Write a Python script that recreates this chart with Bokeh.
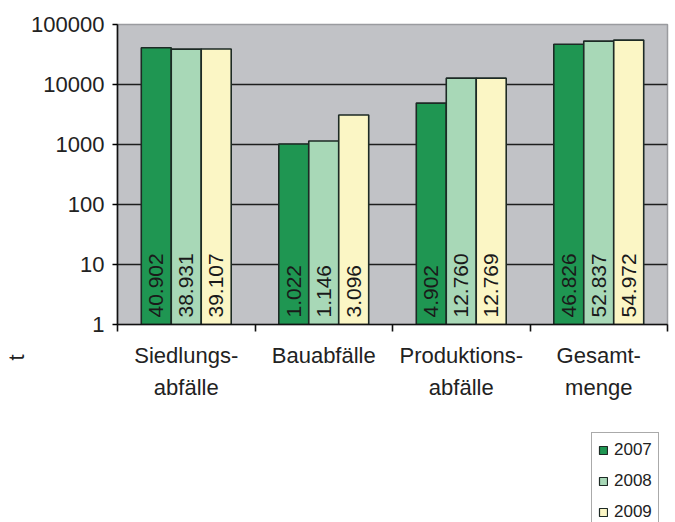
import numpy as np
from bokeh.plotting import figure
from bokeh.layouts import column
from bokeh.models import (ColumnDataSource, Range1d, FixedTicker, NumeralTickFormatter,
                          Title, Legend, LegendItem)
from bokeh.core.properties import value
from bokeh.embed import file_html
from bokeh.resources import INLINE

categories = ["Siedlungs-\nabfälle", "Bauabfälle", "Produktions-\nabfälle", "Gesamt-\nmenge"]
years = ["2007", "2008", "2009"]
values_2007 = [40902, 1022, 4902, 46826]
values_2008 = [38931, 1146, 12760, 52837]
values_2009 = [39107, 3096, 12769, 54972]
y_ticks = [1, 10, 100, 1000, 10000, 100000]

colors = ["#1f9652", "#a8d8b7", "#fbf6c5"]
FONT = "Liberation Sans"

p = figure(width=675, height=430, output_backend="svg", toolbar_location=None,
           y_axis_type="log", x_range=Range1d(0, len(categories)),
           y_range=Range1d(1, 100000),
           min_border_left=117, min_border_right=8, min_border_top=24, min_border_bottom=106)
p.background_fill_color = "#c1c2c6"
p.border_fill_color = "white"
p.outline_line_color = "#9a9b9f"
p.outline_line_width = 1.5

# legend strip below the chart (its range lies above all the bars, so none show)
p2 = figure(width=675, height=92, output_backend="svg", toolbar_location=None,
            x_axis_location=None, y_axis_location=None, y_axis_type="log",
            x_range=Range1d(0, len(categories)), y_range=Range1d(1e6, 1e7),
            min_border=0)
p2.outline_line_color = None
p2.grid.visible = False
p2.background_fill_color = "white"
p2.border_fill_color = "white"

centers = np.arange(len(categories)) + 0.5
bar_w = 0.218
offsets = [-bar_w, 0.0, bar_w]
series = [values_2007, values_2008, values_2009]

def fmt(v):
    return f"{v:,}".replace(",", ".")

items = []
for yr, vals, off, col in zip(years, series, offsets, colors):
    src = ColumnDataSource(dict(x=centers + off, top=vals, bottom=[1] * len(vals),
                                lab=[fmt(v) for v in vals]))
    p.vbar(x="x", top="top", bottom="bottom", width=bar_w, source=src,
           fill_color=col, line_color="#1d2a25", line_width=1.6)
    p.text(x="x", y="bottom", text="lab", source=src, angle=np.pi / 2,
           text_align="left", text_baseline="middle", y_offset=-7,
           text_font=value(FONT), text_font_size="21px", text_color="#1a1a1a")
    r2 = p2.vbar(x="x", top="top", bottom="bottom", width=bar_w, source=src,
                 fill_color=col, line_color="#1d2a25", line_width=1.2)
    items.append(LegendItem(label=yr, renderers=[r2]))

# grid
p.xgrid.grid_line_color = None
p.ygrid.ticker = FixedTicker(ticks=y_ticks)
p.ygrid.grid_line_color = "#1e1e1e"
p.ygrid.grid_line_width = 1.6

# y axis
p.yaxis.ticker = FixedTicker(ticks=y_ticks, minor_ticks=[])
p.yaxis.formatter = NumeralTickFormatter(format="0")
p.yaxis.major_tick_out = 5
p.yaxis.major_tick_in = 0
p.yaxis.minor_tick_line_color = None
p.yaxis.axis_line_color = "#111111"
p.yaxis.axis_line_width = 1.6
p.yaxis.major_tick_line_width = 1.6
p.yaxis.major_label_text_font = FONT
p.yaxis.major_label_text_font_size = "22px"
p.yaxis.major_label_text_color = "#222222"
p.yaxis.major_label_standoff = 8

# x axis
p.xaxis.ticker = FixedTicker(ticks=list(centers),
                             minor_ticks=list(range(len(categories) + 1)))
p.xaxis.major_label_overrides = {float(c): cat for c, cat in zip(centers, categories)}
p.xaxis.major_tick_line_color = None
p.xaxis.minor_tick_out = 7
p.xaxis.minor_tick_in = 0
p.xaxis.minor_tick_line_color = "#111111"
p.xaxis.minor_tick_line_width = 1.6
p.xaxis.axis_line_color = "#111111"
p.xaxis.axis_line_width = 1.6
p.xaxis.major_label_text_font = FONT
p.xaxis.major_label_text_font_size = "22px"
p.xaxis.major_label_text_color = "#222222"
p.xaxis.major_label_text_line_height = 1.3
p.xaxis.major_label_standoff = 11

# unit label
p.add_layout(Title(text="t", align="left", offset=-36, standoff=0, text_font=FONT,
                   text_font_size="22px", text_font_style="normal",
                   text_color="#222222"), "left")

legend = Legend(items=items, location=(474, -7), orientation="vertical",
                glyph_width=10, glyph_height=10, label_height=21, label_width=38,
                spacing=10, label_standoff=6, padding=6, margin=0,
                label_text_font=FONT, label_text_font_size="17px",
                label_text_color="#222222",
                border_line_color="#555555", border_line_width=1.2,
                background_fill_color="white", background_fill_alpha=1.0)
p2.add_layout(legend, "center")

layout = column(p, p2, spacing=0)
open("out.html", "w").write(file_html(layout, INLINE))
